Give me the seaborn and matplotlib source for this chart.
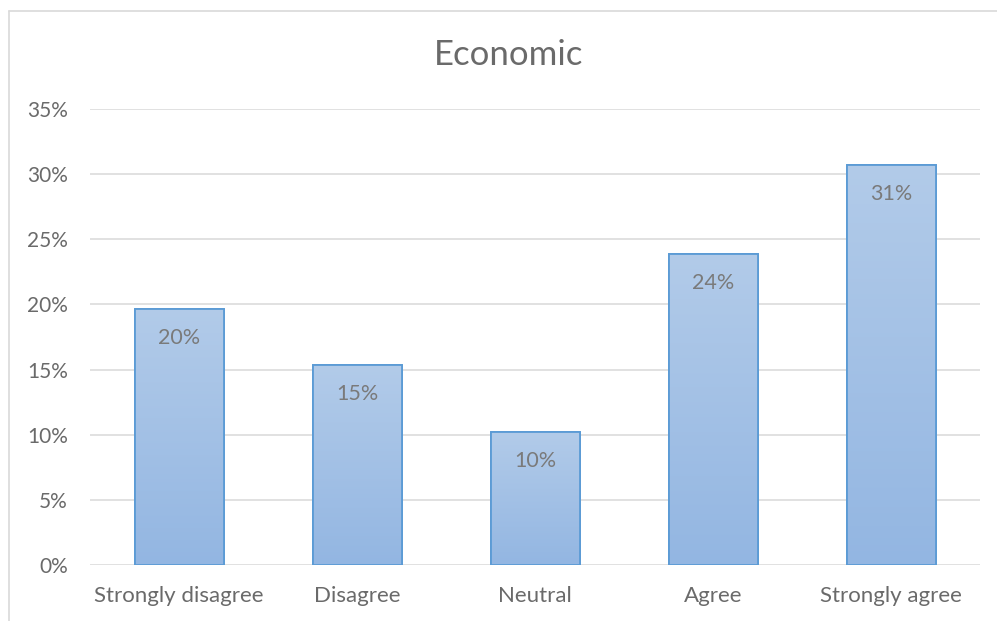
import numpy as np
import matplotlib
matplotlib.use("Agg")
import matplotlib.pyplot as plt
from matplotlib.colors import LinearSegmentedColormap
from matplotlib.lines import Line2D
from matplotlib.ticker import PercentFormatter, MultipleLocator
import seaborn as sns

categories = ["Strongly disagree", "Disagree", "Neutral", "Agree", "Strongly agree"]
shares = [0.1965, 0.1535, 0.102, 0.2387, 0.307]
title = "Economic"

sns.set_theme(style="white")
plt.rcParams["font.family"] = ["Lato", "DejaVu Sans"]

text_grey = "#6a6a6a"
label_grey = "#7a7a7a"
grid_grey = "#d9d9d9"
edge_blue = "#5b9bd5"

fig = plt.figure(figsize=(9.97, 6.21), dpi=100)
ax = fig.add_axes([90 / 997, 1 - 565 / 621, 890 / 997, (565 - 109) / 621])

sns.barplot(x=categories, y=shares, color="#a3c1e6", width=0.5,
            edgecolor=edge_blue, linewidth=1.3, ax=ax, zorder=3)

ax.set_xlim(-0.5, len(categories) - 0.5)
ax.set_ylim(0, 0.35)

# vertical gradient fill inside each bar
grad = LinearSegmentedColormap.from_list("barfill", ["#93b6e2", "#b2cbe9"])
for patch in ax.patches:
    x0, y0 = patch.get_x(), patch.get_y()
    w, h = patch.get_width(), patch.get_height()
    img = ax.imshow(np.linspace(0, 1, 256).reshape(-1, 1), cmap=grad,
                    extent=[x0, x0 + w, y0, y0 + h], origin="lower",
                    aspect="auto", zorder=3.5)
    img.set_clip_path(patch)
    outline = plt.Rectangle((x0, y0), w, h, fill=False, edgecolor=edge_blue,
                            linewidth=1.3, zorder=4)
    ax.add_patch(outline)

for i, v in enumerate(shares):
    ax.annotate(f"{v:.0%}", xy=(i, v), xytext=(0, -21), textcoords="offset points",
                ha="center", va="center", fontsize=15.5, color=label_grey, zorder=5)

ax.yaxis.set_major_locator(MultipleLocator(0.05))
ax.yaxis.set_major_formatter(PercentFormatter(1.0, decimals=0))
ax.grid(axis="y", color=grid_grey, linewidth=1.1, zorder=0)
ax.set_axisbelow(True)
for s in ax.spines.values():
    s.set_visible(False)
ax.tick_params(axis="y", length=0, pad=16, labelsize=15, labelcolor=text_grey)
ax.tick_params(axis="x", length=0, pad=15, labelsize=16, labelcolor=text_grey)
ax.set_xlabel("")
ax.set_ylabel("")

fig.text(509 / 997, 1 - 55 / 621, title, ha="center", va="center",
         fontsize=25, color=text_grey)

# chart frame
fig.add_artist(Line2D([9 / 997, 1], [1 - 11 / 621] * 2, color=grid_grey, lw=1.2,
                      transform=fig.transFigure))
fig.add_artist(Line2D([9 / 997] * 2, [0, 1 - 11 / 621], color=grid_grey, lw=1.2,
                      transform=fig.transFigure))

fig.savefig("out.png", dpi=100)
